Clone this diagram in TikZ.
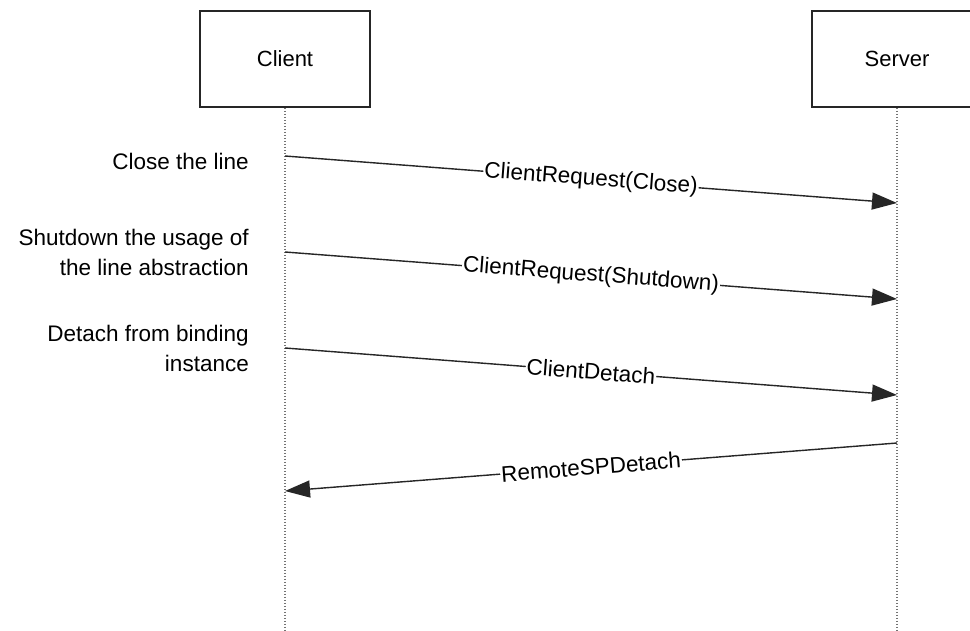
\documentclass[tikz,border=0pt]{standalone}
\usepackage{fontspec}
\setmainfont{Liberation Sans}
\usetikzlibrary{arrows.meta}
\begin{document}
\begin{tikzpicture}[x=1pt,y=-1pt,
  actor/.style={draw=black!85,line width=1.6pt,minimum width=170pt,minimum height=96pt,inner sep=0pt,font=\fontsize{22}{26}\selectfont},
  life/.style={draw=black!55,line width=2pt,dash pattern=on 1.6pt off 1.4pt},
  msg/.style={draw=black!85,line width=1.4pt,-{Triangle[length=25pt,width=17pt]}},
  mlabel/.style={fill=white,inner sep=1pt,sloped,font=\fontsize{22.5}{26}\selectfont},
  note/.style={align=right,anchor=east,inner sep=0pt,font=\fontsize{22.5}{30}\selectfont}]
\clip (0,0) rectangle (970,630);
\fill[white] (0,0) rectangle (970,630);
\node[actor] (client) at (285,59) {Client};
\node[actor] (server) at (897,59) {Server};
\coordinate (cb) at (285,630);
\coordinate (sb) at (897,630);
\draw[life] (client.south) -- (cb);
\draw[life] (server.south) -- (sb);
\coordinate (c1) at (285,156); \coordinate (s1) at (897,203);
\coordinate (c2) at (285,252); \coordinate (s2) at (897,299);
\coordinate (c3) at (285,348); \coordinate (s3) at (897,395);
\coordinate (s4) at (897,443); \coordinate (c4) at (285,491);
\draw[msg] (c1) -- node[mlabel] {ClientRequest(Close)} (s1);
\draw[msg] (c2) -- node[mlabel] {ClientRequest(Shutdown)} (s2);
\draw[msg] (c3) -- node[mlabel] {ClientDetach} (s3);
\draw[msg] (s4) -- node[mlabel] {RemoteSPDetach} (c4);
\node[note] (n1) at (249,161) {Close the line};
\node[note] (n2) at (249,252) {Shutdown the usage of\\the line abstraction};
\node[note] (n3) at (249,348) {Detach from binding\\instance};
\end{tikzpicture}
\end{document}
